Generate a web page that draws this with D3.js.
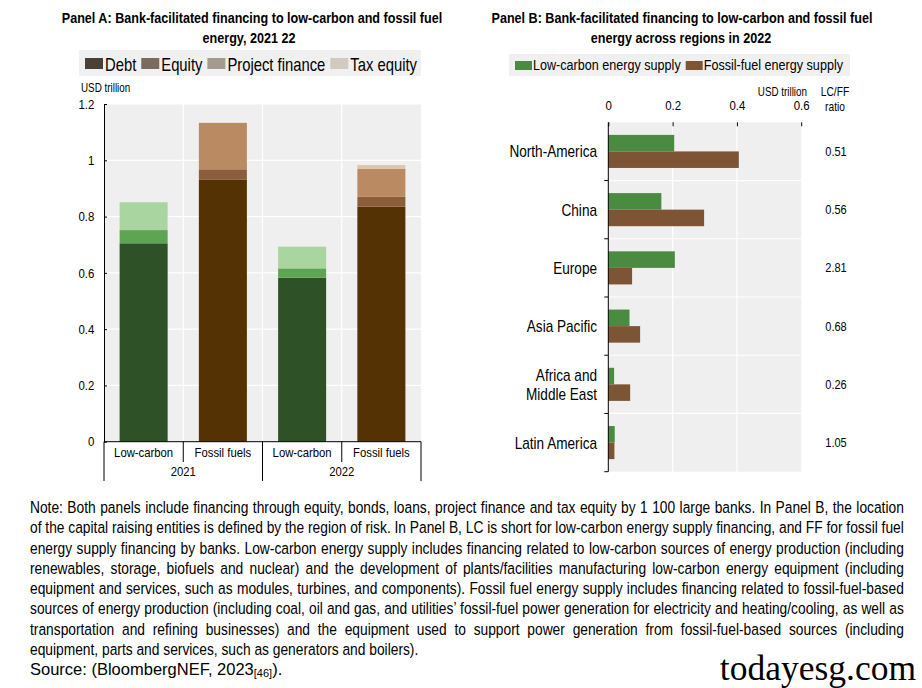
<!DOCTYPE html>
<html>
<head>
<meta charset="utf-8">
<script src="https://cdn.jsdelivr.net/npm/d3@7"></script>
<style>
  html, body { margin: 0; padding: 0; background: #fff; }
  svg { display: block; }
  text { font-family: "Liberation Sans", Arial, sans-serif; fill: #000; }
</style>
</head>
<body>
<svg id="chart" width="922" height="688"></svg>
<script>
// ---------- DATA ----------
// Panel A
const groupsA = ["Low-carbon 2021", "Fossil fuels 2021", "Low-carbon 2022", "Fossil fuels 2022"];
const catLabelsA = ["Low-carbon", "Fossil fuels", "Low-carbon", "Fossil fuels"];
const yearsA = ["2021", "2022"];
const seriesA = ["Debt", "Equity", "Project finance", "Tax equity"];
const debt = [0.705, 0.932, 0.583, 0.835];
const equity = [0.047, 0.036, 0.033, 0.035];
const projectFinance = [0.099, 0.165, 0.077, 0.099];
const taxEquity = [0.0, 0.0, 0.0, 0.014];
const yTicksA = [0, 0.2, 0.4, 0.6, 0.8, 1, 1.2];
const yTickLabelsA = ["0", "0.2", "0.4", "0.6", "0.8", "1", "1.2"];

// Panel B
const regions = ["North-America", "China", "Europe", "Asia Pacific", "Africa and Middle East", "Latin America"];
const regionLabelLines = [["North-America"], ["China"], ["Europe"], ["Asia Pacific"], ["Africa and", "Middle East"], ["Latin America"]];
const seriesB = ["Low-carbon energy supply", "Fossil-fuel energy supply"];
const lowCarbon = [0.205, 0.165, 0.207, 0.066, 0.018, 0.020];
const fossilFuel = [0.406, 0.298, 0.074, 0.099, 0.068, 0.019];
const lcffRatio = ["0.51", "0.56", "2.81", "0.68", "0.26", "1.05"];
const xTicksB = [0, 0.2, 0.4, 0.6];
const xTickLabelsB = ["0", "0.2", "0.4", "0.6"];

// Notes
const noteLines = [
  "Note: Both panels include financing through equity, bonds, loans, project finance and tax equity by 1 100 large banks. In Panel B, the location",
  "of the capital raising entities is defined by the region of risk. In Panel B, LC is short for low-carbon energy supply financing, and FF for fossil fuel",
  "energy supply financing by banks. Low-carbon energy supply includes financing related to low-carbon sources of energy production (including",
  "renewables, storage, biofuels and nuclear) and the development of plants/facilities manufacturing low-carbon energy equipment (including",
  "equipment and services, such as modules, turbines, and components). Fossil fuel energy supply includes financing related to fossil-fuel-based",
  "sources of energy production (including coal, oil and gas, and utilities\u2019 fossil-fuel power generation for electricity and heating/cooling, as well as",
  "transportation and refining businesses) and the equipment used to support power generation from fossil-fuel-based sources (including",
  "equipment, parts and services, such as generators and boilers)."
];

// ---------- STYLE ----------
const colLC = ["#2e5127", "#5da552", "#a9d5a0", "#d6ead0"];
const colFF = ["#553203", "#8b5d3a", "#ba8b62", "#dcc6ad"];
const legendColsA = ["#4b4038", "#7a6b5e", "#a39a90", "#d2c9c0"];
const colB = ["#4a8a41", "#7d5535"];
const plotBg = "#efefef";

const svg = d3.select("#chart");

// narrow text helper (horizontal compression to mimic a condensed face)
function ntext(parent, x, y, str, size, anchor, sx, weight) {
  return parent.append("text")
    .attr("transform", `translate(${x},${y}) scale(${sx},1)`)
    .attr("font-size", size)
    .attr("text-anchor", anchor || "start")
    .attr("font-weight", weight || "normal")
    .text(str);
}

// ---------- PANEL A ----------
const A = { left: 104, right: 421, top: 104, bottom: 441.7 };
const xA = d3.scaleBand().domain(groupsA).range([A.left, A.right]).paddingInner(0.394).paddingOuter(0.197);
const yA = d3.scaleLinear().domain([0, 1.2]).range([A.bottom, A.top]);
const stepA = xA.step();

ntext(svg, 252, 22.5, "Panel A: Bank-facilitated financing to low-carbon and fossil fuel", 14, "middle", 0.9, "bold");
ntext(svg, 249, 43, "energy, 2021 22", 14, "middle", 0.9, "bold");

// legend A
const legA = svg.append("g");
legA.append("rect").attr("x", 79).attr("y", 50).attr("width", 342).attr("height", 26).attr("fill", "#f0f0f0");
let lx = 85;
seriesA.forEach((s, i) => {
  legA.append("rect").attr("x", lx).attr("y", 58).attr("width", 18).attr("height", 11).attr("fill", legendColsA[i]);
  const t = ntext(legA, lx + 20, 71, s, 18.5, "start", 0.8);
  lx += 20 + t.node().getComputedTextLength() * 0.8 + 5;
});

ntext(svg, 81, 92, "USD trillion", 12, "start", 0.82);

// background
svg.append("rect").attr("x", A.left).attr("y", A.top).attr("width", A.right - A.left).attr("height", A.bottom - A.top).attr("fill", plotBg);
// horizontal grid
svg.append("g").selectAll("line").data(yTicksA.slice(1)).join("line")
  .attr("x1", A.left).attr("x2", A.right).attr("y1", d => yA(d)).attr("y2", d => yA(d))
  .attr("stroke", "#fff").attr("stroke-width", 1.2);
// vertical grid
svg.append("g").selectAll("line").data([1, 2, 3]).join("line")
  .attr("x1", d => A.left + d * stepA).attr("x2", d => A.left + d * stepA)
  .attr("y1", A.top).attr("y2", A.bottom).attr("stroke", "#fff").attr("stroke-width", 1.2);

// stacked bars
const rowsA = groupsA.map((g, i) => ({ group: g, Debt: debt[i], Equity: equity[i], "Project finance": projectFinance[i], "Tax equity": taxEquity[i], idx: i }));
const stackA = d3.stack().keys(seriesA)(rowsA);
stackA.forEach((layer, si) => {
  svg.append("g").selectAll("rect").data(layer).join("rect")
    .attr("x", d => xA(d.data.group))
    .attr("width", xA.bandwidth())
    .attr("y", d => yA(d[1]))
    .attr("height", d => Math.max(0, yA(d[0]) - yA(d[1])))
    .attr("fill", d => (d.data.idx % 2 === 0 ? colLC : colFF)[si]);
});

// y axis
const yAxisA = d3.axisLeft(yA).tickValues(yTicksA).tickFormat((d, i) => yTickLabelsA[i]).tickSizeInner(-3).tickSizeOuter(0).tickPadding(11);
const gyA = svg.append("g").attr("transform", `translate(${A.left},0)`).call(yAxisA);
gyA.select(".domain").attr("stroke", "#000");
gyA.selectAll(".tick line").attr("stroke", "#000");
gyA.selectAll(".tick text").attr("font-size", 13).attr("font-family", null).attr("fill", "#000")
  .attr("transform", "scale(0.88,1)");

// x axis (baseline + category separators)
svg.append("line").attr("x1", A.left).attr("x2", A.right).attr("y1", A.bottom).attr("y2", A.bottom).attr("stroke", "#000");
[0, 2, 4].forEach(d => {
  svg.append("line").attr("x1", A.left + d * stepA).attr("x2", A.left + d * stepA)
    .attr("y1", A.bottom).attr("y2", 481).attr("stroke", "#000");
});
[1, 3].forEach(d => {
  svg.append("line").attr("x1", A.left + d * stepA).attr("x2", A.left + d * stepA)
    .attr("y1", A.bottom).attr("y2", 462).attr("stroke", "#000");
});
groupsA.forEach((g, i) => ntext(svg, xA(g) + xA.bandwidth() / 2, 457, catLabelsA[i], 13, "middle", 0.87));
yearsA.forEach((yr, i) => ntext(svg, A.left + (2 * i + 1) * stepA, 476, yr, 13, "middle", 0.87));

// ---------- PANEL B ----------
const B = { left: 608.3, right: 801.2, top: 122.3, bottom: 471.7 };
const xB = d3.scaleLinear().domain([0, 0.6]).range([B.left, B.right]);
const yB = d3.scaleBand().domain(regions).range([B.top, B.bottom]).padding(0);
const inner = d3.scaleBand().domain(seriesB).range([0, yB.bandwidth()]).paddingInner(0).paddingOuter(0.76);

ntext(svg, 682, 22.5, "Panel B: Bank-facilitated financing to low-carbon and fossil fuel", 14, "middle", 0.9, "bold");
ntext(svg, 681, 43, "energy across regions in 2022", 14, "middle", 0.9, "bold");

// legend B
const legB = svg.append("g");
legB.append("rect").attr("x", 509).attr("y", 54).attr("width", 341).attr("height", 22).attr("fill", "#f0f0f0");
let lbx = 515;
seriesB.forEach((s, i) => {
  legB.append("rect").attr("x", lbx).attr("y", 61).attr("width", 17).attr("height", 9).attr("fill", colB[i]);
  const t = ntext(legB, lbx + 18, 70, s, 15, "start", 0.84);
  lbx += 18 + t.node().getComputedTextLength() * 0.84 + 5;
});

ntext(svg, 807, 96, "USD trillion", 12, "end", 0.82);
ntext(svg, 835, 96, "LC/FF", 12, "middle", 0.85);
ntext(svg, 835, 111, "ratio", 12, "middle", 0.85);

svg.append("rect").attr("x", B.left).attr("y", B.top).attr("width", B.right - B.left).attr("height", B.bottom - B.top).attr("fill", plotBg);
svg.append("g").selectAll("line").data(xTicksB.slice(1, 3)).join("line")
  .attr("x1", d => xB(d)).attr("x2", d => xB(d)).attr("y1", B.top).attr("y2", B.bottom)
  .attr("stroke", "#fff").attr("stroke-width", 1.2);
svg.append("g").selectAll("line").data(regions.slice(1)).join("line")
  .attr("x1", B.left).attr("x2", B.right).attr("y1", d => yB(d)).attr("y2", d => yB(d))
  .attr("stroke", "#fff").attr("stroke-width", 1.2);

const rowsB = regions.map((r, i) => ({ region: r, vals: [lowCarbon[i], fossilFuel[i]] }));
const gB = svg.append("g").selectAll("g").data(rowsB).join("g").attr("transform", d => `translate(0,${yB(d.region)})`);
gB.selectAll("rect").data(d => d.vals.map((v, j) => ({ key: seriesB[j], v, j }))).join("rect")
  .attr("x", xB(0)).attr("y", d => inner(d.key)).attr("height", inner.bandwidth())
  .attr("width", d => xB(d.v) - xB(0)).attr("fill", d => colB[d.j]);

// top axis
const xAxisB = d3.axisTop(xB).tickValues(xTicksB).tickFormat((d, i) => xTickLabelsB[i]).tickSizeInner(-4).tickSizeOuter(0).tickPadding(12);
const gxB = svg.append("g").attr("transform", `translate(0,${B.top})`).call(xAxisB);
gxB.select(".domain").remove();
gxB.selectAll(".tick line").attr("stroke", "#000");
gxB.selectAll(".tick text").attr("font-size", 13).attr("font-family", null).attr("fill", "#000")
  .attr("transform", "scale(0.88,1)");

// left axis with boundary ticks
svg.append("line").attr("x1", B.left).attr("x2", B.left).attr("y1", B.top).attr("y2", B.bottom).attr("stroke", "#000");
svg.append("g").selectAll("line").data(regions.slice(1).map(r => yB(r)).concat([B.bottom])).join("line")
  .attr("x1", B.left - 4).attr("x2", B.left).attr("y1", d => d).attr("y2", d => d).attr("stroke", "#000");

// region labels
regions.forEach((r, i) => {
  const lines = regionLabelLines[i];
  const cy = yB(r) + yB.bandwidth() / 2 + 6 - (lines.length - 1) * 9.5;
  lines.forEach((ln, k) => ntext(svg, 597, cy + k * 19, ln, 16, "end", 0.85));
});

// ratio labels
regions.forEach((r, i) => ntext(svg, 836, yB(r) + yB.bandwidth() / 2 + 4.5, lcffRatio[i], 12.5, "middle", 0.88));

// ---------- NOTES ----------
const noteX0 = 30, noteX1 = 905, noteY0 = 513, noteDy = 20.3, noteSize = 16.5;
const noteG = svg.append("g");
const noteTexts = noteLines.map((ln, i) => noteG.append("text").attr("font-size", noteSize).attr("y", noteY0 + i * noteDy).text(ln));
const naturals = noteTexts.slice(0, -1).map(t => t.node().getComputedTextLength());
const sxN = Math.min(0.86, (noteX1 - noteX0) / d3.max(naturals));
const targetLocal = (noteX1 - noteX0) / sxN;
noteTexts.forEach((t, i) => {
  t.attr("transform", `translate(${noteX0},0) scale(${sxN},1)`).attr("x", 0);
  if (i < noteLines.length - 1) {
    const spaces = (noteLines[i].match(/ /g) || []).length;
    t.attr("word-spacing", (targetLocal - naturals[i]) / spaces);
  }
});
const src = noteG.append("text").attr("font-size", 16.5)
  .attr("transform", `translate(${noteX0},${noteY0 + 8 * noteDy})`);
src.append("tspan").text("Source: (BloombergNEF, 2023");
src.append("tspan").attr("font-size", 11).attr("dy", 2).text("[46]");
src.append("tspan").attr("dy", -2).text(").");

svg.append("text").attr("x", 916).attr("y", 680).attr("text-anchor", "end")
  .style("font-family", "'Liberation Serif', 'DejaVu Serif', serif")
  .attr("font-size", 35.5).text("todayesg.com");
</script>
</body>
</html>
